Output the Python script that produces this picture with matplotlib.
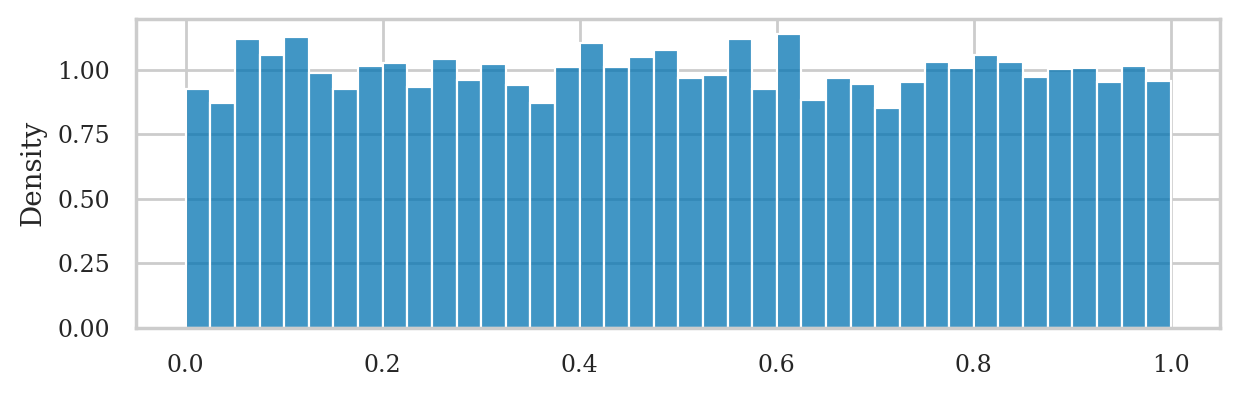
import numpy as np
import matplotlib
matplotlib.use("Agg")
import matplotlib.pyplot as plt
import seaborn as sns

sns.set_theme(style="whitegrid", font="serif", palette="colorblind")
plt.rcParams['font.family'] = ['DejaVu Serif']

# 40 bins over [0, 1], density
n_bins = 40
density = [0.924, 0.872, 1.120, 1.057, 1.128, 0.987, 0.924, 1.014, 1.026, 0.932,
           1.042, 0.960, 1.022, 0.940, 0.872, 1.010, 1.104, 1.010, 1.050, 1.077,
           0.967, 0.979, 1.120, 0.924, 1.140, 0.881, 0.967, 0.944, 0.850, 0.952,
           1.030, 1.007, 1.057, 1.030, 0.971, 1.003, 1.007, 0.952, 1.014, 0.956]
centers = (np.arange(n_bins) + 0.5) / n_bins

fig, ax = plt.subplots(figsize=(6.2, 1.97), dpi=200)
sns.histplot(x=centers, weights=density, bins=n_bins, binrange=(0, 1), ax=ax)
ax.set_ylabel("Density")
ax.set_xlabel("")
ax.set_yticks([0, 0.25, 0.5, 0.75, 1.0])
ax.set_yticklabels(["0.00", "0.25", "0.50", "0.75", "1.00"])
ax.tick_params(labelsize=8.5)
ax.yaxis.label.set_size(10)
fig.subplots_adjust(left=0.11, right=0.984, top=0.952, bottom=0.168)
fig.savefig("out.png", dpi=200)
